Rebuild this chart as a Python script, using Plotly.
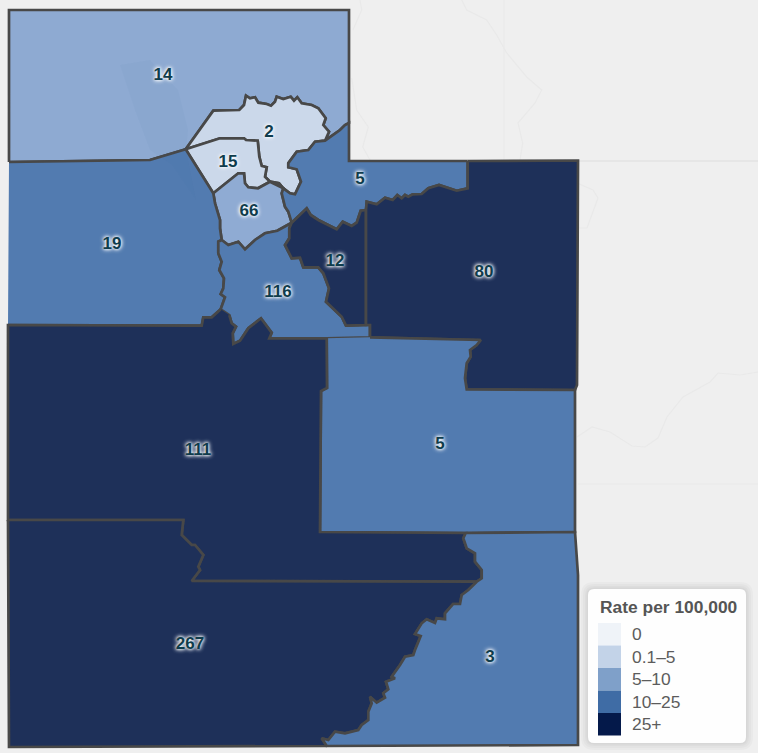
import plotly.graph_objects as go

# district outlines in screen units (x right, y down)
north_west = [(9, 162), (9, 10), (349, 10), (349, 123)]
east_of_14 = [(349, 123), (345, 125), (340, 130), (325, 140.7)]
top_of_2 = [(325, 140.7), (329, 131.7), (323.3, 125), (325.7, 118.3), (318.3, 108.3), (311.7, 105), (301.7, 103.3),
            (297.3, 97.3), (294, 100.7), (290.7, 96.7), (283.3, 99), (276.7, 96.7), (275, 101.7), (271, 105.7),
            (266.7, 104), (258.3, 102.7), (255, 97.3), (250, 98.3), (246, 95.7), (244, 105), (239.3, 110),
            (213.3, 110.7), (185.7, 149.3)]
bottom_of_14 = [(185.7, 149.3), (150, 160), (9, 162)]
east_of_2 = [(325, 140.7), (315, 141.7), (308.3, 150), (296.7, 151.7), (288.3, 163.3), (288.3, 167.3), (296.7, 169.3),
             (301, 181.7), (295, 194.3), (290, 193.3), (283.3, 188.3), (279, 183.3), (270, 181.7)]
between_2_15 = [(270, 181.7), (265, 176.7), (266.7, 167.3), (261.7, 166), (259.3, 156.7), (257.7, 140.7), (246, 140),
                (244, 138.3), (220, 138.3), (185.7, 149.3)]
between_15_66 = [(270, 181.7), (258, 188.3), (248.3, 187.3), (245, 183.3), (244, 173.3), (238.3, 173.3), (213.3, 193.3)]
west_of_15 = [(213.3, 193.3), (185.7, 149.3)]
east_of_66 = [(283.3, 188.3), (281.7, 193.3), (285, 206.7), (288.3, 211.7), (291.7, 222.7)]
bottom_of_66 = [(291.7, 222.7), (277.3, 230.7), (265, 233.3), (255, 240), (245, 249.3), (238.3, 241.7), (228.3, 245),
                (221.7, 240)]
west_of_66 = [(221.7, 240), (220, 228.3), (220, 220), (215, 203.3), (213.3, 193.3)]
west_of_116 = [(221.7, 240), (218.3, 241.7), (218.3, 253.3), (221.7, 261.7), (219.3, 270), (224, 278.3), (223.3, 288.3),
               (220.7, 294), (225, 297.3), (220.7, 309.3)]
south_of_116 = [(220.7, 309.3), (229.3, 315), (231.7, 323.3), (236, 326.7), (232.7, 333.3), (233.3, 344), (240, 340.7),
                (248.3, 328.3), (261, 318.3), (271.7, 332.7), (269.3, 338.3), (326.7, 338.3), (370, 337.3)]
east_of_116 = [(370, 337.3), (370, 325), (366, 325), (346, 325.7), (341.7, 316.7), (326, 301.7), (329, 288.3), (323.3, 273.3),
               (318.3, 267.3), (303.3, 267.3), (300, 257.7), (291.7, 258.3), (285, 245), (289.3, 238.3), (289.3, 228.3),
               (291.7, 222.7)]
top_of_12 = [(291.7, 222.7), (306.7, 208.3), (310.7, 215), (318.3, 220), (336.7, 229.3), (342.7, 221.7), (351.7, 226),
             (356.7, 222.7), (360.7, 210.7), (366, 210)]
east_of_12 = [(366, 210), (366, 325)]
north_of_80 = [(366, 210), (366.7, 201.7), (376.7, 204.3), (385, 197.7), (392.7, 200), (397.3, 195), (401.7, 198.3),
               (405, 195), (408.3, 196.7), (412.7, 194.3), (421.7, 194), (428.3, 188.3), (439, 185), (456.7, 190.7),
               (467.7, 188.3), (467.7, 161)]
top_of_5 = [(467.7, 161), (349, 161), (349, 123)]
east_of_80 = [(467.7, 161), (578, 160.5), (577, 385), (575, 390), (466.7, 389.3)]
notch_of_80 = [(466.7, 389.3), (465, 378.3), (466.7, 363.3), (470.7, 356.7), (470, 350), (476.7, 345), (480.7, 340)]
top_of_5b = [(480.7, 340), (370, 337.3)]
east_of_5b = [(466.7, 389.3), (575, 390), (575, 532)]
south_of_5b = [(575, 532), (465.7, 533), (320, 532), (321, 391), (327, 388), (326.7, 338.3)]
west_of_111 = [(220.7, 309.3), (211.7, 317.3), (203.3, 317.3), (201.7, 325.7), (190, 325.7), (8, 325)]
east_of_111 = [(465.7, 533), (463.3, 538.3), (466.7, 548.3), (475, 553.3), (475, 561.7), (481.7, 570), (481.7, 578.3),
               (476.7, 581.7)]
between_111_267 = [(476.7, 581.7), (191.7, 581), (200, 570), (198.3, 566.7), (203.3, 555), (195, 545), (191.7, 545),
                   (181.7, 535), (183.3, 520), (8, 520)]
east_of_267 = [(476.7, 581.7), (468.3, 590), (461.7, 595), (460, 604), (453, 604), (445, 613.3), (445, 619.3), (436.7, 618.3),
               (435, 623), (426.7, 619.3), (421.7, 623.3), (415, 634), (420.7, 636), (415, 650), (413.3, 655), (405, 656.7),
               (400, 665), (391.7, 676.7), (395, 678.3), (386, 681.7), (388.3, 689.3), (383.3, 693.3), (385, 697.7),
               (376.7, 702.7), (370, 696.7), (371.7, 703.3), (368.3, 711.7), (368.3, 720), (361.7, 725), (358.3, 730),
               (345, 733.3), (335, 731.7), (328.3, 740), (321.7, 738.3), (326.7, 746)]
bottom_west = [(326.7, 746), (9, 747), (8, 520)]
south_east = [(326.7, 746), (578, 745), (578, 575), (575, 532)]

districts = [
    ("14", "#8eaad2", [north_west, east_of_14, top_of_2, bottom_of_14]),
    ("2", "#cbd8ea", [top_of_2, between_2_15[::-1], east_of_2[::-1]]),
    ("15", "#cbd8ea", [between_2_15, west_of_15[::-1], between_15_66[::-1]]),
    ("66", "#8fabd3", [between_15_66, west_of_66[::-1], bottom_of_66[::-1], east_of_66[::-1], east_of_2[-3:][::-1]]),
    ("19", "#527bb0", [bottom_of_14[::-1], west_of_15[::-1], west_of_66[::-1], west_of_116, west_of_111]),
    ("5", "#527bb0", [top_of_5, east_of_14, east_of_2[:-2], east_of_66, top_of_12, north_of_80]),
    ("116", "#527bb0", [bottom_of_66, west_of_116, south_of_116, east_of_116]),
    ("12", "#1e3059", [top_of_12, east_of_12, east_of_116[2:]]),
    ("80", "#1e3059", [east_of_80, notch_of_80, top_of_5b, east_of_116[:3], east_of_12[::-1], north_of_80]),
    ("5", "#527bb0", [top_of_5b[::-1], notch_of_80[::-1], east_of_5b, south_of_5b]),
    ("111", "#1e3059", [west_of_111, [(8, 520)], between_111_267[::-1], east_of_111[::-1], south_of_5b[1:], south_of_116[-2:0:-1]]),
    ("267", "#1e3059", [between_111_267[::-1], east_of_267, bottom_west]),
    ("3", "#527bb0", [east_of_111, east_of_267, south_east, [(465.7, 533)]]),
]

label_names = ["14", "2", "15", "5", "66", "19", "12", "80", "116", "111", "5", "267", "3"]
label_x = [163, 269, 228, 360, 249, 112, 335, 484, 278, 198, 440, 190, 490]
label_y = [75, 132, 162, 179, 211, 244, 261, 272, 292, 450, 444, 644, 657]

legend_title = "Rate per 100,000"
legend_labels = ["0", "0.1–5", "5–10", "10–25", "25+"]
legend_colors = ["#eff3f8", "#c3d3e8", "#7fa0c9", "#3f6ca5", "#04194a"]

# pale base map showing round the districts
faint_lines = [
    [(461.7, 0), (466.7, 10), (486.7, 20), (496.7, 35), (506.7, 53), (526.7, 77), (541.7, 90), (535, 103), (518, 123),
     (522.7, 143), (520, 160)],
    [(360, 0), (361.7, 10), (353, 30)],
    [(351.7, 78), (356.7, 110), (368.3, 127), (362.7, 147), (370, 160)],
    [(577, 183), (593, 190), (598, 198), (587, 228), (578, 228)],
    [(577, 437), (592, 427), (610, 432), (632, 446), (645, 447), (658, 438), (667, 417), (683, 397), (710, 382), (718, 373),
     (740, 375), (758, 372)],
    [(504, 0), (504, 160)],
    [(578, 484), (758, 484)],
]
state_line = [(578, 161), (758, 161)]
lake = [(120, 65), (150, 60), (178, 90), (188, 130), (186, 150), (196, 200), (172, 165), (150, 150), (135, 110)]


def flatten(parts):
    pts = [p for part in parts for p in part]
    return [p[0] for p in pts], [p[1] for p in pts]


fig = go.Figure()

for line in faint_lines:
    fig.add_trace(go.Scatter(x=[p[0] for p in line], y=[p[1] for p in line], mode="lines",
                             line=dict(color="#e9e9e9", width=1.2), hoverinfo="skip"))
fig.add_trace(go.Scatter(x=[p[0] for p in state_line], y=[p[1] for p in state_line], mode="lines",
                         line=dict(color="#dedede", width=1.2), hoverinfo="skip"))

for name, color, parts in districts:
    xs, ys = flatten(parts)
    fig.add_trace(go.Scatter(x=xs, y=ys, mode="lines", fill="toself", fillcolor=color, name=name,
                             line=dict(color="#484848", width=2.7), hoveron="fills"))

fig.add_trace(go.Scatter(x=[p[0] for p in lake], y=[p[1] for p in lake], mode="lines", fill="toself",
                         fillcolor="rgba(60,100,160,0.04)", line=dict(width=0), hoverinfo="skip"))

fig.add_trace(go.Scatter(x=label_x, y=[v + 1 for v in label_y], mode="text", text=label_names, hoverinfo="skip",
                         textfont=dict(family="Liberation Sans", size=17, color="#0f3c4c", weight="bold",
                                       shadow="0 0 3px #ffffff, 0 0 4px #ffffff, 0 0 5px #dfeaf5")))

# legend box, with a soft shadow
def box(x0, y0, x1, y1, r):
    return (f"M{x0+r},{y0} L{x1-r},{y0} Q{x1},{y0} {x1},{y0+r} L{x1},{y1-r} Q{x1},{y1} {x1-r},{y1} "
            f"L{x0+r},{y1} Q{x0},{y1} {x0},{y1-r} L{x0},{y0+r} Q{x0},{y0} {x0+r},{y0} Z")


for grow in [7, 5, 3, 1.5]:
    fig.add_shape(type="path", path=box(588 - grow, 589 - grow, 746 + grow, 743 + grow, 6 + grow),
                  fillcolor="rgba(0,0,0,0.025)", line_width=0, layer="above")
fig.add_shape(type="path", path=box(588, 589, 746, 743, 6), fillcolor="rgba(255,255,255,0.96)", line_width=0, layer="above")

fig.add_annotation(x=597.5, y=607, text=f"<b>{legend_title}</b>", showarrow=False, xanchor="left", yanchor="middle",
                   font=dict(family="Liberation Sans", size=17.4, color="#555555"))
for i, (lab, col) in enumerate(zip(legend_labels, legend_colors)):
    top = 623 + i * 22.5
    fig.add_shape(type="rect", x0=598, x1=621, y0=top, y1=top + 22.5, fillcolor=col, line_width=0, layer="above")
    fig.add_annotation(x=629.5, y=top + 11.2, text=lab, showarrow=False, xanchor="left", yanchor="middle",
                       font=dict(family="Liberation Sans", size=17.4, color="#5c5c5c"))

fig.update_layout(
    width=758, height=753, showlegend=False,
    margin=dict(l=0, r=0, t=0, b=0),
    paper_bgcolor="#efefef", plot_bgcolor="#efefef",
    xaxis=dict(range=[0, 758], visible=False, fixedrange=True),
    yaxis=dict(range=[753, 0], visible=False, fixedrange=True),
)

fig.write_html("out.html", config=dict(displayModeBar=False),
               post_script="document.body.style.margin='0';document.body.style.overflow='hidden';")
